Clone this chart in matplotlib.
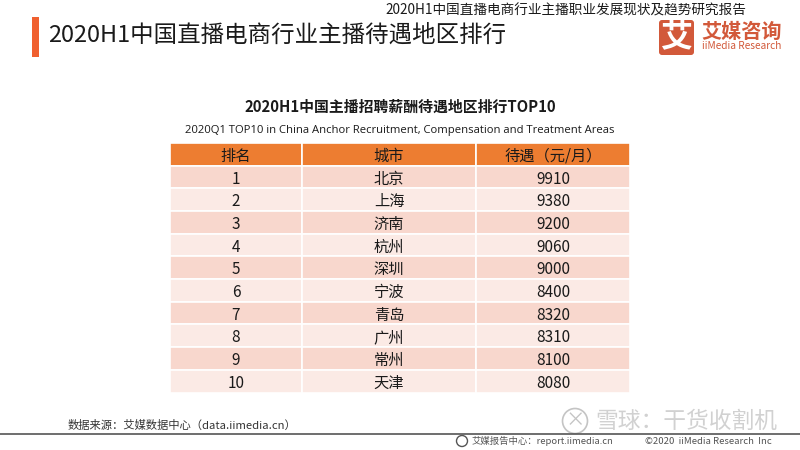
import matplotlib
matplotlib.use("Agg")
import matplotlib.pyplot as plt
from matplotlib.patches import Rectangle, FancyBboxPatch, Circle

plt.rcParams['font.family'] = ['Noto Sans CJK SC', 'DejaVu Sans']

# table data
col_labels = ['排名', '城市', '待遇（元/月）']
ranks = ['1', '2', '3', '4', '5', '6', '7', '8', '9', '10']
cities = ['北京', '上海', '济南', '杭州', '深圳', '宁波', '青岛', '广州', '常州', '天津']
pay = ['9910', '9380', '9200', '9060', '9000', '8400', '8320', '8310', '8100', '8080']

ORANGE = '#ed7d31'
ROW_DARK = '#f8d7cd'
ROW_LIGHT = '#fbeae5'
TEXT = '#1a1a1a'

fig = plt.figure(figsize=(8, 4.5), dpi=100)
ax = fig.add_axes([0, 0, 1, 1])
ax.set_xlim(0, 800)
ax.set_ylim(450, 0)
ax.axis('off')

# header
ax.add_patch(Rectangle((32, 17), 6.5, 40, color='#f0602f', lw=0))
ax.text(48, 35, '2020H1中国直播电商行业主播待遇地区排行', fontsize=16.9, color=TEXT, va='center', ha='left')
ax.text(746, 10.5, '2020H1中国直播电商行业主播职业发展现状及趋势研究报告', fontsize=9.8, color=TEXT, va='center', ha='right')

# logo
ax.add_patch(FancyBboxPatch((659, 20), 35, 35, boxstyle='round,pad=0,rounding_size=3', color='#d2593a', lw=0))
ax.text(676.5, 37, '艾', fontsize=23, color='white', va='center', ha='center', fontweight='bold')
ax.text(701, 31, '艾媒咨询', fontsize=14.5, color='#d2593a', va='center', ha='left', fontweight='bold')
ax.text(702, 46, 'iiMedia Research', fontsize=7.3, color='#d2593a', va='center', ha='left')

# table titles
ax.text(400, 107, '2020H1中国主播招聘薪酬待遇地区排行TOP10', fontsize=10.7, color=TEXT, va='center', ha='center', fontweight='bold')
ax.text(400, 130, '2020Q1 TOP10 in China Anchor Recruitment, Compensation and Treatment Areas',
        fontsize=8.15, color=TEXT, va='center', ha='center', family=['Open Sans', 'DejaVu Sans'])

# table
rows = list(zip(ranks, cities, pay))
tbl = ax.table(cellText=rows, colLabels=col_labels, cellLoc='center',
               bbox=[170 / 800, 1 - 392.5 / 450, 460 / 800, 249.5 / 450],
               colWidths=[132, 174, 154])
tbl.auto_set_font_size(False)
for (r, c), cell in tbl.get_celld().items():
    cell.set_edgecolor('white')
    cell.set_linewidth(1.2)
    txt = cell.get_text()
    if r == 0:
        cell.set_facecolor(ORANGE)
        txt.set_fontsize(11)
        txt.set_fontweight('medium')
    else:
        cell.set_facecolor(ROW_DARK if r % 2 == 1 else ROW_LIGHT)
        txt.set_fontsize(11)
    txt.set_color(TEXT)
    txt.set_verticalalignment('center_baseline')

# footer
ax.plot([0, 800], [434, 434], color='#555555', lw=1.2)
ax.text(68, 425, '数据来源：艾媒数据中心（data.iimedia.cn）', fontsize=8.15, color='#333333', va='center', ha='left')

# watermark
ax.add_patch(Circle((575, 421), 12.5, fill=False, ec='#c4c4c4', lw=1.2))
ax.text(575, 421, '×', fontsize=14, color='#c4c4c4', va='center', ha='center')
ax.text(595, 421, '雪球：干货收割机', fontsize=16.4, color='#c9c9c9', va='center', ha='left', alpha=0.85)

ax.add_patch(Circle((462, 441), 5.5, fill=False, ec='#555555', lw=1))
ax.text(472, 441, '艾媒报告中心：report.iimedia.cn', fontsize=6.75, color='#555555', va='center', ha='left')
ax.text(645, 441, '©2020  iiMedia Research  Inc', fontsize=6.9, color='#555555', va='center', ha='left')

fig.savefig('out.png', dpi=100)
